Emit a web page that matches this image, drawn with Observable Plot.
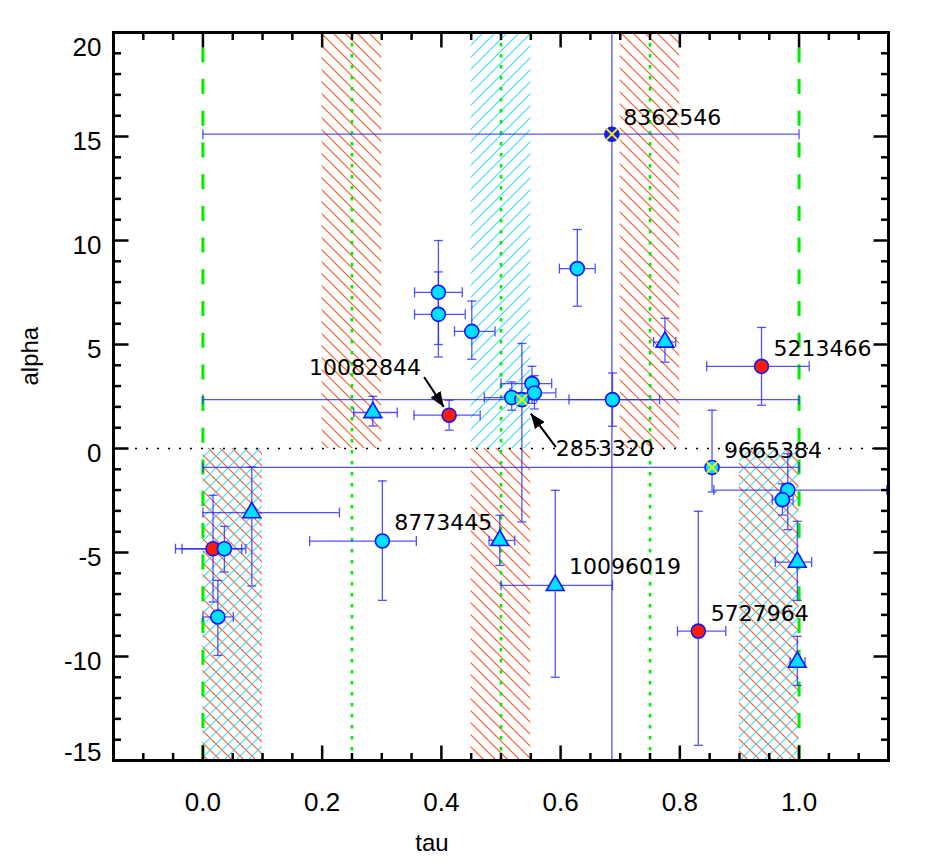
<!DOCTYPE html>
<html>
<head>
<meta charset="utf-8">
<script src="https://cdn.jsdelivr.net/npm/d3@7"></script>
<script src="https://cdn.jsdelivr.net/npm/@observablehq/plot@0.6"></script>
<style>
  html, body { margin: 0; padding: 0; background: white; }
</style>
</head>
<body>
<div id="chart"></div>
<script>
// ---------------- data ----------------
const tau      = [0.686, 0.628, 0.395, 0.395, 0.451, 0.413, 0.285, 0.687, 0.518, 0.552, 0.556, 0.535, 0.775, 0.937, 0.854, 0.981, 0.972, 0.997, 0.997, 0.831, 0.591, 0.498, 0.301, 0.082, 0.017, 0.036, 0.025];
const alpha    = [15.11, 8.65, 7.51, 6.45, 5.63, 1.60, 1.73, 2.35, 2.45, 3.12, 2.67, 2.35, 5.12, 3.95, -0.91, -2.00, -2.46, -5.46, -10.27, -8.78, -6.58, -4.42, -4.45, -3.08, -4.82, -4.82, -8.10];
const tauLo    = [0.000, 0.598, 0.355, 0.355, 0.422, 0.354, 0.253, 0.614, 0.472, 0.500, 0.515, 0.000, 0.756, 0.845, 0.000, 0.857, 0.955, 0.960, 0.985, 0.796, 0.500, 0.480, 0.179, 0.000, -0.046, -0.035, 0.000];
const tauHi    = [1.000, 0.658, 0.435, 0.440, 0.490, 0.465, 0.326, 0.766, 0.560, 0.585, 0.592, 1.000, 0.793, 1.017, 1.000, 1.147, 0.990, 1.021, 1.010, 0.877, 0.687, 0.523, 0.358, 0.229, 0.065, 0.072, 0.051];
const alphaLo  = [-25, 6.84, 5.00, 4.40, 4.29, 0.88, 1.08, 1.07, 1.84, 2.17, 1.90, -3.53, 4.15, 2.08, -2.09, -3.90, -3.20, -7.30, -11.39, -14.27, -11.00, -5.62, -7.30, -6.61, -7.38, -5.94, -9.95];
const alphaHi  = [30, 10.53, 10.00, 8.49, 7.09, 2.32, 2.51, 3.63, 3.20, 3.95, 3.50, 5.05, 6.26, 5.82, 1.84, -0.25, -1.70, -3.50, -9.03, -3.02, -2.01, -3.21, -1.56, -0.89, -2.25, -3.74, -6.34];
const kind     = ["bluex","cyan","cyan","cyan","cyan","red","tri","cyan","cyan","cyan","cyan","cyanx","tri","red","cyanx","cyan","cyan","tri","tri","red","tri","tri","cyan","tri","red","cyan","cyan"];

const labelText  = ["8362546", "10082844", "2853320", "5213466", "9665384", "8773445", "10096019", "5727964"];
const labelTau   = [0.705, 0.178, 0.592, 0.957, 0.874, 0.321, 0.614, 0.852];
const labelAlpha = [15.55, 3.52, -0.375, 4.43, -0.44, -3.93, -6.02, -8.30];

const arrowTauFrom   = [0.371, 0.592];
const arrowAlphaFrom = [3.44, 0.07];
const arrowTauTo     = [0.404, 0.550];
const arrowAlphaTo   = [2.00, 1.68];

const zoneX1   = [0.20, 0.45, 0.70, 0.00, 0.45, 0.90];
const zoneX2   = [0.30, 0.55, 0.80, 0.10, 0.55, 1.00];
const zoneY1   = [0, 0, 0, -15, -15, -15];
const zoneY2   = [20, 20, 20, 0, 0, 0];
const zoneType = ["red", "cyan", "red", "both", "red", "both"];

const dashedTau = [0, 1];
const dottedTau = [0.25, 0.5, 0.75];
const zeroAlpha = [0];

const xMajor = [0.0, 0.2, 0.4, 0.6, 0.8, 1.0];
const xMinor = [-0.10, -0.05, 0.05, 0.10, 0.15, 0.25, 0.30, 0.35, 0.45, 0.50, 0.55, 0.65, 0.70, 0.75, 0.85, 0.90, 0.95, 1.05, 1.10];
const yMajor = [-15, -10, -5, 0, 5, 10, 15, 20];
const yMinor = [-14, -13, -12, -11, -9, -8, -7, -6, -4, -3, -2, -1, 1, 2, 3, 4, 6, 7, 8, 9, 11, 12, 13, 14, 16, 17, 18, 19];
const yLabelsMid = [-10, -5, 0, 5, 10, 15];

// ---------------- build tables ----------------
const rows = tau.map((t, i) => ({tau: t, alpha: alpha[i], tauLo: tauLo[i], tauHi: tauHi[i], alphaLo: alphaLo[i], alphaHi: alphaHi[i], kind: kind[i]}));
const labels = labelText.map((s, i) => ({text: s, tau: labelTau[i], alpha: labelAlpha[i]}));
const arrows = arrowTauFrom.map((t, i) => ({x1: t, y1: arrowAlphaFrom[i], x2: arrowTauTo[i], y2: arrowAlphaTo[i]}));
const zones = zoneX1.map((x, i) => ({x1: x, x2: zoneX2[i], y1: zoneY1[i], y2: zoneY2[i], type: zoneType[i]}));

// ---------------- custom symbols ----------------
const capV = {draw(ctx) { ctx.moveTo(0, -5); ctx.lineTo(0, 5); }};
const capH = {draw(ctx) { ctx.moveTo(-4.5, 0); ctx.lineTo(4.5, 0); }};
const tickSym = (dx, dy) => ({draw(ctx) { ctx.moveTo(0, 0); ctx.lineTo(dx, dy); }});

const ERR = "#2c2cff";
const ERR_OP = 0.82;
const EDGE = "#1414ff";
const CYAN = "#00e1ff";
const greenC = "#00ee00";

const tickOpts = {stroke: "black", strokeWidth: 2.5, fill: "none", r: 5};
const errOpts = {stroke: ERR, strokeOpacity: ERR_OP, strokeWidth: 1.3, clip: true};

const svg = Plot.plot({
  width: 945,
  height: 864,
  marginLeft: 113,
  marginRight: 57,
  marginTop: 32,
  marginBottom: 104,
  style: {background: "white", fontFamily: "'Liberation Sans', Arial, Helvetica, sans-serif", fontSize: "26px", color: "black", overflow: "visible"},
  x: {domain: [-0.15, 1.15]},
  y: {domain: [-15, 20]},
  marks: [
    // hatched zones
    Plot.rect(zones.filter(d => d.type === "red" || d.type === "both"), {x1: "x1", x2: "x2", y1: "y1", y2: "y2", fill: "url(#hatchRed)"}),
    Plot.rect(zones.filter(d => d.type === "cyan" || d.type === "both"), {x1: "x1", x2: "x2", y1: "y1", y2: "y2", fill: "url(#hatchCyan)"}),
    // reference lines
    Plot.ruleX(dottedTau, {x: Plot.identity, stroke: greenC, strokeWidth: 2.6, strokeDasharray: "3.5,7.5"}),
    Plot.ruleY(zeroAlpha, {y: Plot.identity, stroke: "black", strokeWidth: 1.6, strokeDasharray: "2,9"}),
    Plot.ruleX(dashedTau, {x: Plot.identity, stroke: greenC, strokeWidth: 3, strokeDasharray: "15,16.7", strokeDashoffset: 16.3}),
    // error bars
    Plot.ruleY(rows, {y: "alpha", x1: "tauLo", x2: "tauHi", ...errOpts}),
    Plot.ruleX(rows, {x: "tau", y1: "alphaLo", y2: "alphaHi", ...errOpts}),
    Plot.dot(rows, {x: "tauLo", y: "alpha", symbol: capV, fill: "none", ...errOpts}),
    Plot.dot(rows, {x: "tauHi", y: "alpha", symbol: capV, fill: "none", ...errOpts}),
    Plot.dot(rows, {x: "tau", y: "alphaLo", symbol: capH, fill: "none", ...errOpts}),
    Plot.dot(rows, {x: "tau", y: "alphaHi", symbol: capH, fill: "none", ...errOpts}),
    // markers
    Plot.dot(rows.filter(d => d.kind === "red"), {x: "tau", y: "alpha", r: 7, fill: "#ff1a00", stroke: EDGE, strokeWidth: 1.6}),
    Plot.dot(rows.filter(d => d.kind === "cyan"), {x: "tau", y: "alpha", r: 7, fill: CYAN, stroke: EDGE, strokeWidth: 1.6}),
    Plot.dot(rows.filter(d => d.kind === "tri"), {x: "tau", y: "alpha", r: 6.6, symbol: "triangle", fill: CYAN, stroke: EDGE, strokeWidth: 1.6}),
    Plot.dot(rows.filter(d => d.kind === "cyanx"), {x: "tau", y: "alpha", r: 7, fill: CYAN, stroke: EDGE, strokeWidth: 1.6}),
    Plot.dot(rows.filter(d => d.kind === "bluex"), {x: "tau", y: "alpha", r: 7, fill: "#1a1aff", stroke: EDGE, strokeWidth: 1.6}),
    Plot.dot(rows.filter(d => d.kind === "cyanx" || d.kind === "bluex"), {x: "tau", y: "alpha", r: 5, symbol: "times", stroke: "#f2f200", strokeWidth: 2, fill: "none"}),
    // annotations
    Plot.link(arrows, {x1: "x1", y1: "y1", x2: "x2", y2: "y2", stroke: "black", strokeWidth: 2}),
    Plot.text(labels, {x: "tau", y: "alpha", text: "text", textAnchor: "start", lineAnchor: "bottom", fontSize: 22, fontFamily: "'DejaVu Sans', sans-serif", fill: "black"}),
    // frame
    Plot.frame({stroke: "black", strokeWidth: 3}),
    // inward ticks
    Plot.dot(xMajor, {x: Plot.identity, frameAnchor: "bottom", symbol: tickSym(0, -15), ...tickOpts}),
    Plot.dot(xMinor, {x: Plot.identity, frameAnchor: "bottom", symbol: tickSym(0, -7.5), ...tickOpts}),
    Plot.dot(xMajor, {x: Plot.identity, frameAnchor: "top", symbol: tickSym(0, 15), ...tickOpts}),
    Plot.dot(xMinor, {x: Plot.identity, frameAnchor: "top", symbol: tickSym(0, 7.5), ...tickOpts}),
    Plot.dot(yMajor, {y: Plot.identity, frameAnchor: "left", symbol: tickSym(15, 0), ...tickOpts}),
    Plot.dot(yMinor, {y: Plot.identity, frameAnchor: "left", symbol: tickSym(7.5, 0), ...tickOpts}),
    Plot.dot(yMajor, {y: Plot.identity, frameAnchor: "right", symbol: tickSym(-15, 0), ...tickOpts}),
    Plot.dot(yMinor, {y: Plot.identity, frameAnchor: "right", symbol: tickSym(-7.5, 0), ...tickOpts}),
    // tick labels
    Plot.axisX({ticks: xMajor, tickSize: 0, tickPadding: 32, tickFormat: d3.format(".1f"), label: null, fontSize: 26}),
    Plot.axisY({ticks: yLabelsMid, tickSize: 0, tickPadding: 12, tickFormat: d => String(d), label: null, dy: 5, fontSize: 26}),
    Plot.axisY({ticks: [20], tickSize: 0, tickPadding: 12, tickFormat: d => String(d), label: null, dy: 15, fontSize: 26}),
    Plot.axisY({ticks: [-15], tickSize: 0, tickPadding: 12, tickFormat: d => String(d), label: null, dy: -8, fontSize: 26}),
    // axis titles
    Plot.text(["tau"], {frameAnchor: "bottom", text: Plot.identity, dy: 90, dx: -69, lineAnchor: "bottom", fontSize: 24}),
    Plot.text(["alpha"], {frameAnchor: "left", text: Plot.identity, rotate: -90, dx: -83, dy: -11, fontSize: 24})
  ]
});

const defs = d3.select(svg).insert("defs", ":first-child");
defs.html(`
  <pattern id="hatchRed" patternUnits="userSpaceOnUse" width="12" height="12">
    <path d="M0,0 L12,12 M-6,6 L6,18 M6,-6 L18,6" stroke="#ff5a28" stroke-width="1.2" fill="none"/>
  </pattern>
  <pattern id="hatchCyan" patternUnits="userSpaceOnUse" width="12" height="12">
    <path d="M0,12 L12,0 M-6,6 L6,-6 M6,18 L18,6" stroke="#40dcff" stroke-width="1.2" fill="none"/>
  </pattern>
  <marker id="arrowHead" viewBox="0 0 15 12" refX="15" refY="6" markerWidth="15" markerHeight="12" markerUnits="userSpaceOnUse" orient="auto">
    <path d="M0,0 L15,6 L0,12 z" fill="black"/>
  </marker>
`);
d3.select(svg).selectAll('g[aria-label="link"] path, g[aria-label="link"] line').attr("marker-end", "url(#arrowHead)");

document.getElementById("chart").appendChild(svg);
</script>
</body>
</html>
